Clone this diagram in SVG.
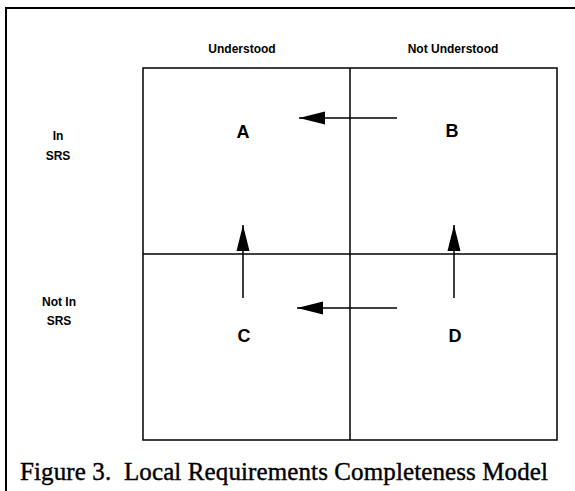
<svg xmlns="http://www.w3.org/2000/svg" width="575" height="491" viewBox="0 0 575 491">
<style>
.lbl{font-family:"Liberation Sans",Arial,sans-serif;font-weight:bold;font-size:12px;fill:#000;text-anchor:middle}
.big{font-family:"Liberation Sans",Arial,sans-serif;font-weight:bold;font-size:18px;fill:#000;text-anchor:middle}
.cap{font-family:"Liberation Serif","Times New Roman",serif;font-size:25px;fill:#000;stroke:#000;stroke-width:0.4}
.ln{stroke:#000;stroke-width:1.5;fill:none}
.arr{stroke:#000;stroke-width:1.5;fill:none;marker-end:url(#ah)}
</style>
<defs>
<marker id="ah" markerUnits="userSpaceOnUse" markerWidth="28" markerHeight="14" refX="26" refY="7" orient="auto">
<path d="M0,0.5 L26,7 L0,13.5 Z" fill="#000"/>
</marker>
</defs>
<rect width="575" height="491" fill="#fff"/>
<g id="frame">
<line x1="6" y1="8" x2="575" y2="8" stroke="#000" stroke-width="2"/>
<line x1="6" y1="7" x2="6" y2="491" stroke="#000" stroke-width="2"/>
</g>
<g id="grid">
<rect x="143" y="68" width="414" height="372" class="ln"/>
<line x1="350" y1="68" x2="350" y2="440" class="ln"/>
<line x1="143" y1="254" x2="557" y2="254" class="ln"/>
</g>
<g id="headers">
<text class="lbl" x="242" y="53">Understood</text>
<text class="lbl" x="453" y="53">Not Understood</text>
<text class="lbl" x="58" y="140">In</text>
<text class="lbl" x="58" y="160">SRS</text>
<text class="lbl" x="59" y="306">Not In</text>
<text class="lbl" x="59" y="325">SRS</text>
</g>
<g id="A"><text class="big" x="243" y="138">A</text></g>
<g id="B"><text class="big" x="452" y="137">B</text></g>
<g id="C"><text class="big" x="244" y="342">C</text></g>
<g id="D"><text class="big" x="455" y="342">D</text></g>
<g id="connectors">
<line class="arr" x1="397" y1="118" x2="299" y2="118"/>
<line class="arr" x1="397" y1="308" x2="297" y2="308"/>
<line class="arr" x1="243" y1="298" x2="243" y2="225"/>
<line class="arr" x1="454" y1="298" x2="454" y2="225"/>
</g>
<text class="cap" x="20" y="480" textLength="528" lengthAdjust="spacing" xml:space="preserve">Figure 3.  Local Requirements Completeness Model</text>
</svg>
